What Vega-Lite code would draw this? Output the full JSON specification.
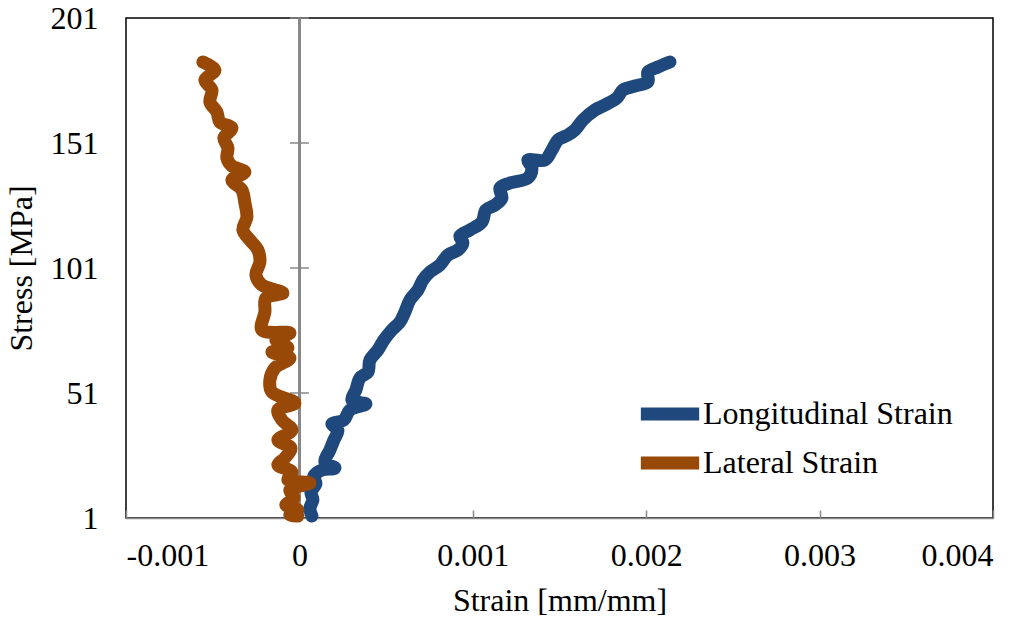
{
  "$schema": "https://vega.github.io/schema/vega-lite/v6.json",
  "width": 867,
  "height": 500,
  "autosize": {"type": "none"},
  "padding": {"left": 126, "top": 18, "right": 42, "bottom": 102},
  "background": "white",
  "config": {
    "font": "Liberation Serif",
    "view": {"stroke": "#000000", "strokeWidth": 1.5},
    "axis": {"labelFont": "Liberation Serif", "titleFont": "Liberation Serif", "labelColor": "#000000", "titleColor": "#000000", "labelFontSize": 32, "titleFontSize": 32, "titleFontWeight": "normal", "grid": false},
    "legend": {"labelFont": "Liberation Serif", "labelFontSize": 32, "labelColor": "#000000"}
  },
  "data": {"values": [
    {"series": "Longitudinal Strain", "i": 1, "strain": 0.0000721, "stress": 1.8},
    {"series": "Longitudinal Strain", "i": 2, "strain": 0.0000606, "stress": 5.0},
    {"series": "Longitudinal Strain", "i": 3, "strain": 0.0000779, "stress": 8.2},
    {"series": "Longitudinal Strain", "i": 4, "strain": 0.0000663, "stress": 11.4},
    {"series": "Longitudinal Strain", "i": 5, "strain": 0.0000952, "stress": 14.6},
    {"series": "Longitudinal Strain", "i": 6, "strain": 0.0000836, "stress": 17.8},
    {"series": "Longitudinal Strain", "i": 7, "strain": 0.0001298, "stress": 20.2},
    {"series": "Longitudinal Strain", "i": 8, "strain": 0.0002047, "stress": 21.0},
    {"series": "Longitudinal Strain", "i": 9, "strain": 0.0001471, "stress": 23.4},
    {"series": "Longitudinal Strain", "i": 10, "strain": 0.0001759, "stress": 28.2},
    {"series": "Longitudinal Strain", "i": 11, "strain": 0.0001990, "stress": 32.2},
    {"series": "Longitudinal Strain", "i": 12, "strain": 0.0002220, "stress": 36.2},
    {"series": "Longitudinal Strain", "i": 13, "strain": 0.0001874, "stress": 38.6},
    {"series": "Longitudinal Strain", "i": 14, "strain": 0.0002566, "stress": 40.2},
    {"series": "Longitudinal Strain", "i": 15, "strain": 0.0002912, "stress": 44.2},
    {"series": "Longitudinal Strain", "i": 16, "strain": 0.0003835, "stress": 46.6},
    {"series": "Longitudinal Strain", "i": 17, "strain": 0.0003028, "stress": 48.2},
    {"series": "Longitudinal Strain", "i": 18, "strain": 0.0003258, "stress": 52.2},
    {"series": "Longitudinal Strain", "i": 19, "strain": 0.0003489, "stress": 57.0},
    {"series": "Longitudinal Strain", "i": 20, "strain": 0.0003950, "stress": 59.4},
    {"series": "Longitudinal Strain", "i": 21, "strain": 0.0004066, "stress": 64.2},
    {"series": "Longitudinal Strain", "i": 22, "strain": 0.0004527, "stress": 68.2},
    {"series": "Longitudinal Strain", "i": 23, "strain": 0.0004873, "stress": 72.2},
    {"series": "Longitudinal Strain", "i": 24, "strain": 0.0005334, "stress": 76.2},
    {"series": "Longitudinal Strain", "i": 25, "strain": 0.0005796, "stress": 79.4},
    {"series": "Longitudinal Strain", "i": 26, "strain": 0.0006084, "stress": 83.4},
    {"series": "Longitudinal Strain", "i": 27, "strain": 0.0006373, "stress": 88.2},
    {"series": "Longitudinal Strain", "i": 28, "strain": 0.0006834, "stress": 92.2},
    {"series": "Longitudinal Strain", "i": 29, "strain": 0.0007122, "stress": 96.2},
    {"series": "Longitudinal Strain", "i": 30, "strain": 0.0007526, "stress": 99.4},
    {"series": "Longitudinal Strain", "i": 31, "strain": 0.0008103, "stress": 102.2},
    {"series": "Longitudinal Strain", "i": 32, "strain": 0.0008564, "stress": 106.2},
    {"series": "Longitudinal Strain", "i": 33, "strain": 0.0009141, "stress": 108.2},
    {"series": "Longitudinal Strain", "i": 34, "strain": 0.0009429, "stress": 111.0},
    {"series": "Longitudinal Strain", "i": 35, "strain": 0.0009256, "stress": 113.8},
    {"series": "Longitudinal Strain", "i": 36, "strain": 0.0009833, "stress": 116.2},
    {"series": "Longitudinal Strain", "i": 37, "strain": 0.0010525, "stress": 119.4},
    {"series": "Longitudinal Strain", "i": 38, "strain": 0.0010755, "stress": 124.2},
    {"series": "Longitudinal Strain", "i": 39, "strain": 0.0011275, "stress": 126.2},
    {"series": "Longitudinal Strain", "i": 40, "strain": 0.0011678, "stress": 129.0},
    {"series": "Longitudinal Strain", "i": 41, "strain": 0.0011563, "stress": 133.0},
    {"series": "Longitudinal Strain", "i": 42, "strain": 0.0012140, "stress": 135.0},
    {"series": "Longitudinal Strain", "i": 43, "strain": 0.0013178, "stress": 137.0},
    {"series": "Longitudinal Strain", "i": 44, "strain": 0.0013408, "stress": 141.0},
    {"series": "Longitudinal Strain", "i": 45, "strain": 0.0013178, "stress": 144.2},
    {"series": "Longitudinal Strain", "i": 46, "strain": 0.0014158, "stress": 144.2},
    {"series": "Longitudinal Strain", "i": 47, "strain": 0.0014562, "stress": 148.2},
    {"series": "Longitudinal Strain", "i": 48, "strain": 0.0014908, "stress": 152.2},
    {"series": "Longitudinal Strain", "i": 49, "strain": 0.0015484, "stress": 154.2},
    {"series": "Longitudinal Strain", "i": 50, "strain": 0.0015888, "stress": 156.2},
    {"series": "Longitudinal Strain", "i": 51, "strain": 0.0016349, "stress": 160.2},
    {"series": "Longitudinal Strain", "i": 52, "strain": 0.0017042, "stress": 164.2},
    {"series": "Longitudinal Strain", "i": 53, "strain": 0.0017618, "stress": 166.2},
    {"series": "Longitudinal Strain", "i": 54, "strain": 0.0018310, "stress": 169.0},
    {"series": "Longitudinal Strain", "i": 55, "strain": 0.0018656, "stress": 172.2},
    {"series": "Longitudinal Strain", "i": 56, "strain": 0.0019348, "stress": 173.8},
    {"series": "Longitudinal Strain", "i": 57, "strain": 0.0020098, "stress": 175.4},
    {"series": "Longitudinal Strain", "i": 58, "strain": 0.0020098, "stress": 179.4},
    {"series": "Longitudinal Strain", "i": 59, "strain": 0.0020675, "stress": 181.4},
    {"series": "Longitudinal Strain", "i": 60, "strain": 0.0021367, "stress": 183.4},
    {"series": "Lateral Strain", "i": 1, "strain": -0.0005565, "stress": 183.4},
    {"series": "Lateral Strain", "i": 2, "strain": -0.0004873, "stress": 180.2},
    {"series": "Lateral Strain", "i": 3, "strain": -0.0005450, "stress": 176.2},
    {"series": "Lateral Strain", "i": 4, "strain": -0.0005046, "stress": 172.2},
    {"series": "Lateral Strain", "i": 5, "strain": -0.0005161, "stress": 167.4},
    {"series": "Lateral Strain", "i": 6, "strain": -0.0004758, "stress": 163.4},
    {"series": "Lateral Strain", "i": 7, "strain": -0.0004585, "stress": 159.4},
    {"series": "Lateral Strain", "i": 8, "strain": -0.0003893, "stress": 157.0},
    {"series": "Lateral Strain", "i": 9, "strain": -0.0004354, "stress": 153.0},
    {"series": "Lateral Strain", "i": 10, "strain": -0.0004123, "stress": 149.0},
    {"series": "Lateral Strain", "i": 11, "strain": -0.0004181, "stress": 145.0},
    {"series": "Lateral Strain", "i": 12, "strain": -0.0003893, "stress": 141.8},
    {"series": "Lateral Strain", "i": 13, "strain": -0.0003143, "stress": 139.4},
    {"series": "Lateral Strain", "i": 14, "strain": -0.0003893, "stress": 136.2},
    {"series": "Lateral Strain", "i": 15, "strain": -0.0003316, "stress": 132.2},
    {"series": "Lateral Strain", "i": 16, "strain": -0.0003143, "stress": 127.0},
    {"series": "Lateral Strain", "i": 17, "strain": -0.0003028, "stress": 121.4},
    {"series": "Lateral Strain", "i": 18, "strain": -0.0003258, "stress": 116.2},
    {"series": "Lateral Strain", "i": 19, "strain": -0.0002855, "stress": 112.2},
    {"series": "Lateral Strain", "i": 20, "strain": -0.0002393, "stress": 108.2},
    {"series": "Lateral Strain", "i": 21, "strain": -0.0002278, "stress": 103.4},
    {"series": "Lateral Strain", "i": 22, "strain": -0.0002509, "stress": 98.2},
    {"series": "Lateral Strain", "i": 23, "strain": -0.0002163, "stress": 94.2},
    {"series": "Lateral Strain", "i": 24, "strain": -0.0000952, "stress": 91.0},
    {"series": "Lateral Strain", "i": 25, "strain": -0.0001932, "stress": 89.0},
    {"series": "Lateral Strain", "i": 26, "strain": -0.0001990, "stress": 83.4},
    {"series": "Lateral Strain", "i": 27, "strain": -0.0002163, "stress": 76.2},
    {"series": "Lateral Strain", "i": 28, "strain": -0.0000548, "stress": 75.0},
    {"series": "Lateral Strain", "i": 29, "strain": -0.0001355, "stress": 72.2},
    {"series": "Lateral Strain", "i": 30, "strain": -0.0000663, "stress": 69.0},
    {"series": "Lateral Strain", "i": 31, "strain": -0.0001586, "stress": 67.4},
    {"series": "Lateral Strain", "i": 32, "strain": -0.0000548, "stress": 65.0},
    {"series": "Lateral Strain", "i": 33, "strain": -0.0001413, "stress": 61.0},
    {"series": "Lateral Strain", "i": 34, "strain": -0.0001701, "stress": 56.2},
    {"series": "Lateral Strain", "i": 35, "strain": -0.0001586, "stress": 51.4},
    {"series": "Lateral Strain", "i": 36, "strain": -0.0000260, "stress": 47.0},
    {"series": "Lateral Strain", "i": 37, "strain": -0.0001240, "stress": 44.2},
    {"series": "Lateral Strain", "i": 38, "strain": -0.0001009, "stress": 40.2},
    {"series": "Lateral Strain", "i": 39, "strain": -0.0000433, "stress": 36.2},
    {"series": "Lateral Strain", "i": 40, "strain": -0.0001240, "stress": 32.2},
    {"series": "Lateral Strain", "i": 41, "strain": -0.0000490, "stress": 29.0},
    {"series": "Lateral Strain", "i": 42, "strain": -0.0000836, "stress": 25.0},
    {"series": "Lateral Strain", "i": 43, "strain": -0.0001240, "stress": 22.2},
    {"series": "Lateral Strain", "i": 44, "strain": -0.0000433, "stress": 19.4},
    {"series": "Lateral Strain", "i": 45, "strain": -0.0000663, "stress": 16.2},
    {"series": "Lateral Strain", "i": 46, "strain": 0.0000606, "stress": 15.0},
    {"series": "Lateral Strain", "i": 47, "strain": -0.0000548, "stress": 12.2},
    {"series": "Lateral Strain", "i": 48, "strain": -0.0000317, "stress": 9.0},
    {"series": "Lateral Strain", "i": 49, "strain": -0.0000779, "stress": 6.2},
    {"series": "Lateral Strain", "i": 50, "strain": -0.0000087, "stress": 4.2},
    {"series": "Lateral Strain", "i": 51, "strain": -0.0000548, "stress": 2.2},
    {"series": "Lateral Strain", "i": 52, "strain": -0.0000087, "stress": 1.8}
  ]},
  "layer": [
    {
      "mark": {"type": "rule", "color": "#898989", "strokeWidth": 1.5},
      "encoding": {"x": {"datum": 0, "type": "quantitative"}}
    },
    {
      "data": {"values": [{"tick": 51}, {"tick": 101}, {"tick": 151}, {"tick": 201}]},
      "mark": {"type": "tick", "orient": "horizontal", "color": "#898989", "size": 19, "thickness": 1.5, "opacity": 1},
      "encoding": {
        "x": {"datum": 0, "type": "quantitative"},
        "y": {"field": "tick", "type": "quantitative"}
      }
    },
    {
      "mark": {"type": "line", "strokeWidth": 13, "strokeCap": "round", "strokeJoin": "round", "interpolate": "catmull-rom"},
      "encoding": {
        "x": {
          "field": "strain", "type": "quantitative",
          "scale": {"domain": [-0.001, 0.004], "nice": false, "zero": false},
          "axis": {
            "title": "Strain [mm/mm]",
            "values": [-0.001, 0, 0.001, 0.002, 0.003, 0.004],
            "labelExpr": "'' + datum.value",
            "domainColor": "#898989", "domainWidth": 1.5,
            "tickColor": "#898989", "tickWidth": 1.5, "tickSize": -8,
            "labelPadding": 30, "titlePadding": 14
          }
        },
        "y": {
          "field": "stress", "type": "quantitative",
          "scale": {"domain": [1, 201], "nice": false, "zero": false},
          "axis": {
            "title": "Stress [MPa]",
            "values": [1, 51, 101, 151, 201],
            "domain": false, "ticks": false,
            "labelPadding": 28, "titlePadding": 12
          }
        },
        "color": {
          "field": "series", "type": "nominal",
          "scale": {"domain": ["Longitudinal Strain", "Lateral Strain"], "range": ["#1F497D", "#984807"]},
          "legend": {
            "title": null, "orient": "none", "legendX": 508, "legendY": 381,
            "symbolType": "stroke", "symbolSize": 3400, "symbolStrokeWidth": 13,
            "clipHeight": 30, "rowPadding": 17, "labelOffset": -3, "padding": 0, "labelLimit": 0
          }
        },
        "order": {"field": "i", "type": "quantitative"}
      }
    }
  ]
}
